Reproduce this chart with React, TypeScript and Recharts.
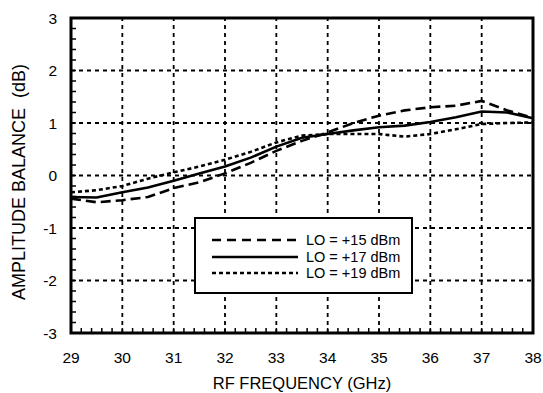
import { LineChart, Line, XAxis, YAxis, ReferenceLine, ReferenceArea } from "recharts"

// RF frequency (GHz) and amplitude balance (dB)
const freqs = [29, 29.5, 30, 30.5, 31, 31.5, 32, 32.5, 33, 33.5, 34, 34.5, 35, 35.5, 36, 36.5, 37, 37.5, 38]
const lo15 = [-0.44, -0.51, -0.47, -0.41, -0.24, -0.13, 0.04, 0.24, 0.47, 0.66, 0.82, 1.0, 1.14, 1.24, 1.3, 1.33, 1.42, 1.24, 1.1]
const lo17 = [-0.41, -0.42, -0.32, -0.23, -0.1, 0.04, 0.17, 0.34, 0.55, 0.72, 0.79, 0.86, 0.92, 0.95, 1.02, 1.11, 1.22, 1.2, 1.09]
const lo19 = [-0.32, -0.28, -0.2, -0.06, 0.06, 0.17, 0.3, 0.45, 0.63, 0.76, 0.79, 0.79, 0.79, 0.74, 0.79, 0.88, 0.98, 1.0, 1.01]

const xTicks = [29, 30, 31, 32, 33, 34, 35, 36, 37, 38]
const yTicks = [-3, -2, -1, 0, 1, 2, 3]

const legendItems = [
  { key: "lo15", label: "LO = +15 dBm", dash: "9 6" },
  { key: "lo17", label: "LO = +17 dBm", dash: "" },
  { key: "lo19", label: "LO = +19 dBm", dash: "4 3" },
]

const data = freqs.map((f, i) => ({ f, lo15: lo15[i], lo17: lo17[i], lo19: lo19[i] }))

// minor ticks every 0.2 along the frame
const minor = (from: number, to: number) => {
  const out: number[] = []
  for (let v = from * 5; v <= to * 5; v++) out.push(Math.round(v * 2) / 10)
  return out
}
const minorX = minor(xTicks[0], xTicks[xTicks.length - 1])
const minorY = minor(yTicks[0], yTicks[yTicks.length - 1])
const isMajor = (v: number) => Math.abs(v - Math.round(v)) < 1e-6

const FONT = "'Liberation Sans', Arial, Helvetica, sans-serif"
const W = 543
const H = 393
const TICK_LINE = { stroke: "#000", strokeWidth: 1.5 }
const tickStyle = { fill: "#000", fontSize: 15.5, fontFamily: FONT }

const XTitle = (props: any) => {
  const vb = props.viewBox || { x: 71, width: 462 }
  const cx = vb.x + vb.width / 2
  return (
    <text x={cx} y={383} textAnchor="middle" dominantBaseline="central" fontSize={16.5} fontFamily={FONT} fill="#000">
      RF FREQUENCY (GHz)
    </text>
  )
}

const YTitle = () => {
  const cx = 19
  const cy = 182
  return (
    <text
      x={cx}
      y={cy}
      transform={`rotate(-90 ${cx} ${cy})`}
      textAnchor="middle"
      dominantBaseline="central"
      fontSize={18}
      fontFamily={FONT}
      fill="#000"
      style={{ whiteSpace: "pre" }}
    >
      AMPLITUDE BALANCE  (dB)
    </text>
  )
}

export default function App() {
  return (
    <div style={{ position: "absolute", left: 0, top: 0, width: W, height: H, background: "#fff" }}>
      <LineChart width={W} height={H} data={data} margin={{ top: 18, right: 10, bottom: 0, left: 0 }}>
        <XAxis
          dataKey="f"
          type="number"
          domain={[29, 38]}
          ticks={minorX}
          interval={0}
          height={60}
          axisLine={false}
          tickLine={TICK_LINE}
          tickSize={-5}
          tickMargin={24}
          tick={tickStyle}
          tickFormatter={(v: number) => (isMajor(v) ? String(Math.round(v)) : "")}
          label={<XTitle />}
        />
        <XAxis
          xAxisId="top"
          orientation="top"
          dataKey="f"
          type="number"
          domain={[29, 38]}
          ticks={minorX}
          interval={0}
          height={0}
          axisLine={false}
          tickLine={TICK_LINE}
          tickSize={-5}
          tick={false}
        />
        <YAxis
          type="number"
          domain={[-3, 3]}
          ticks={minorY}
          interval={0}
          width={71}
          axisLine={false}
          tickLine={TICK_LINE}
          tickSize={-5}
          tickMargin={19}
          tick={tickStyle}
          tickFormatter={(v: number) => (isMajor(v) ? String(Math.round(v)) : "")}
          label={<YTitle />}
        />
        <YAxis
          yAxisId="right"
          orientation="right"
          type="number"
          domain={[-3, 3]}
          ticks={minorY}
          interval={0}
          width={0}
          axisLine={false}
          tickLine={TICK_LINE}
          tickSize={-5}
          tick={false}
        />
        {xTicks.slice(1, -1).map((x) => (
          <ReferenceLine key={`gx${x}`} x={x} stroke="#000" strokeWidth={1.8} strokeDasharray="4 4" />
        ))}
        {yTicks.slice(1, -1).map((y) => (
          <ReferenceLine key={`gy${y}`} y={y} stroke="#000" strokeWidth={1.8} strokeDasharray="4 4" />
        ))}
        <Line dataKey="lo15" type="linear" stroke="#000" strokeWidth={2.6} strokeDasharray="10 5" dot={false} isAnimationActive={false} />
        <Line dataKey="lo17" type="linear" stroke="#000" strokeWidth={2.6} dot={false} isAnimationActive={false} />
        <Line dataKey="lo19" type="linear" stroke="#000" strokeWidth={2.6} strokeDasharray="4 3" dot={false} isAnimationActive={false} />
        <ReferenceArea x1={29} x2={38} y1={-3} y2={3} fill="none" fillOpacity={0} stroke="#000" strokeWidth={3} ifOverflow="visible" />
      </LineChart>
      <div
        style={{
          position: "absolute",
          left: 194,
          top: 217,
          width: 219,
          height: 77,
          boxSizing: "border-box",
          border: "2px solid #000",
          background: "#fff",
          fontFamily: FONT,
          fontSize: 14.5,
        }}
      >
        {legendItems.map((it, i) => (
          <div key={it.key} style={{ position: "absolute", left: 16, top: 13 + i * 16.7, height: 16, display: "flex", alignItems: "center" }}>
            <svg width={86} height={6} style={{ display: "block" }}>
              <line x1={0} y1={3} x2={86} y2={3} stroke="#000" strokeWidth={2.7} strokeDasharray={it.dash || undefined} />
            </svg>
            <span style={{ marginLeft: 8, lineHeight: "16px", whiteSpace: "nowrap" }}>{it.label}</span>
          </div>
        ))}
      </div>
    </div>
  )
}
